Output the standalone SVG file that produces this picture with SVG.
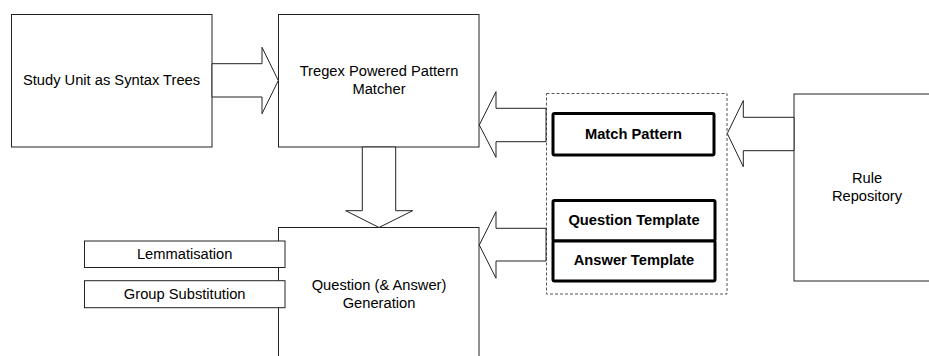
<svg xmlns="http://www.w3.org/2000/svg" width="929" height="356" viewBox="0 0 929 356">
<style>
.box{fill:#fff;stroke:#222;stroke-width:1}
.thick{fill:#fff;stroke:#000;stroke-width:3}
.dash{fill:none;stroke:#555;stroke-width:1;stroke-dasharray:3 2}
.arr{fill:#fff;stroke:#222;stroke-width:1;stroke-linejoin:miter}
.t{font-family:"Liberation Sans",Arial,sans-serif;font-size:14.7px;fill:#000;text-anchor:middle}
.b{font-weight:bold}
</style>
<rect width="929" height="356" fill="#fff"/>
<g id="study-unit"><rect class="box" x="11.5" y="14.5" width="200.5" height="132.5"/><text class="t" x="111.5" y="85">Study Unit as Syntax Trees</text></g>
<g id="tregex"><rect class="box" x="278.5" y="14.5" width="200.5" height="132.5"/><text class="t" x="379" y="76">Tregex Powered Pattern</text><text class="t" x="379" y="94">Matcher</text></g>
<g id="qgen"><rect class="box" x="278.5" y="227.5" width="200.5" height="160"/><text class="t" x="379" y="289.5">Question (&amp; Answer)</text><text class="t" x="379" y="307.5">Generation</text></g>
<g id="lemmatisation"><rect class="box" x="84.5" y="241" width="200.5" height="26.5"/><text class="t" x="184.7" y="259">Lemmatisation</text></g>
<g id="group-substitution"><rect class="box" x="84.5" y="280.7" width="200.5" height="27"/><text class="t" x="184.7" y="299">Group Substitution</text></g>
<g id="rule-repository"><rect class="box" x="794" y="94" width="170" height="187"/><text class="t" x="867" y="183.3">Rule</text><text class="t" x="867" y="201">Repository</text></g>
<g id="rule-group"><rect class="dash" x="546.5" y="93.5" width="180.5" height="200.5"/></g>
<g id="match-pattern"><rect class="thick" x="553" y="113.5" width="161" height="41.5" rx="1.5"/><text class="t b" x="633.5" y="139">Match Pattern</text></g>
<g id="question-template"><rect class="thick" x="553" y="200.5" width="162" height="40.5" rx="1.5"/><text class="t b" x="634" y="225">Question Template</text></g>
<g id="answer-template"><rect class="thick" x="553" y="241" width="162" height="40" rx="1.5"/><text class="t b" x="634" y="265">Answer Template</text></g>
<g id="connectors">
<polygon class="arr" points="212,63.7 262,63.7 262,47.3 278.3,80.5 262,113.7 262,97 212,97"/>
<polygon class="arr" points="546,108.3 496,108.3 496,91.7 479.3,125 496,157.3 496,141.7 546,141.7"/>
<polygon class="arr" points="546,228.3 496,228.3 496,211.7 479.3,245 496,278.3 496,261 546,261"/>
<polygon class="arr" points="794,117.3 743.3,117.3 743.3,100.5 727.3,133.5 743.3,166.7 743.3,150.7 794,150.7"/>
<polygon class="arr" points="362.3,147 362.3,210.7 345.7,210.7 379,227.5 412.7,210.7 395.7,210.7 395.7,147"/>
</g>
</svg>
